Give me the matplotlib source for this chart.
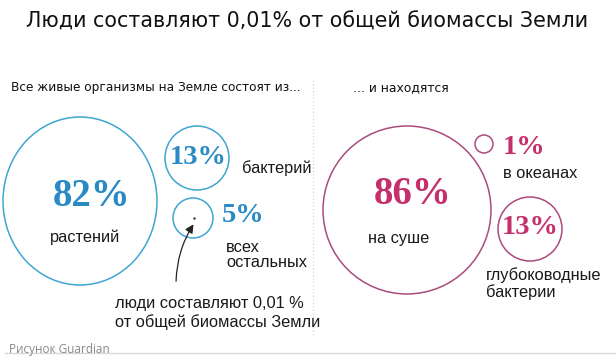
import matplotlib
matplotlib.use("Agg")
import matplotlib.pyplot as plt
from matplotlib.patches import Circle, Ellipse, FancyArrowPatch

# data
title = "Люди составляют 0,01% от общей биомассы Земли"
left_head = "Все живые организмы на Земле состоят из..."
right_head = "... и находятся"
left_vals = ["82%", "13%", "5%"]
left_labels = ["растений", "бактерий", "всех\nостальных"]
right_vals = ["86%", "1%", "13%"]
right_labels = ["на суше", "в океанах", "глубоководные\nбактерии"]
note = "люди составляют 0,01 %\nот общей биомассы Земли"
credit = "Рисунок Guardian"

blue_txt = "#2a8ac4"
blue_line = "#3fa6d2"
pink_txt = "#c42f6c"
pink_line = "#aa4b7e"
num_font = "Liberation Serif"
lab_font = ["Liberation Sans", "DejaVu Sans"]
lab_size = 11.8

fig = plt.figure(figsize=(6.16, 3.64), dpi=100)
ax = fig.add_axes([0, 0, 1, 1])
ax.set_xlim(0, 616)
ax.set_ylim(364, 0)
ax.axis("off")

ax.text(307, 22, title, ha="center", va="center", fontsize=14.9,
        family="DejaVu Sans", color="#111111")
ax.text(11, 88, left_head, ha="left", va="center", fontsize=8.7,
        family="DejaVu Sans", color="#111111")
ax.text(353, 88, right_head, ha="left", va="center", fontsize=8.9,
        family="DejaVu Sans", color="#111111")

# divider
ax.plot([313, 313], [80, 335], color="#dddddd", lw=1, ls=(0, (1, 1.5)))
ax.plot([5, 616], [353, 353], color="#d8d8d8", lw=1)

# left circles
ax.add_patch(Ellipse((80, 201), 154, 168, fill=False, ec=blue_line, lw=1.1))
for (cx, cy, r) in [(197, 158, 32), (193, 218, 20)]:
    ax.add_patch(Circle((cx, cy), r, fill=False, ec=blue_line, lw=1.1))
ax.plot([194], [218], marker=".", ms=1.5, color="#333333")

ax.text(92, 196, left_vals[0], ha="center", va="center", fontsize=28,
        family=num_font, weight="bold", color=blue_txt)
ax.text(85, 237, left_labels[0], ha="center", va="center", fontsize=lab_size,
        family=lab_font, color="#1a1a1a")
ax.text(198, 157, left_vals[1], ha="center", va="center", fontsize=20.5,
        family=num_font, weight="bold", color=blue_txt)
ax.text(242, 168, left_labels[1], ha="left", va="center", fontsize=lab_size,
        family=lab_font, color="#1a1a1a")
ax.text(222, 216, left_vals[2], ha="left", va="center", fontsize=20.5,
        family=num_font, weight="bold", color=blue_txt)
ax.text(226, 255, left_labels[2], ha="left", va="center", fontsize=lab_size,
        family=lab_font, color="#1a1a1a", linespacing=1.0)

arrow = FancyArrowPatch((176, 284), (195, 222), connectionstyle="arc3,rad=-0.15",
                        arrowstyle="-|>,head_length=5,head_width=2.5",
                        color="#222222", lw=0.9)
ax.add_patch(arrow)
ax.text(115, 313, note, ha="left", va="center", fontsize=lab_size,
        family=lab_font, color="#1a1a1a", linespacing=1.3)

ax.text(9, 349, credit, ha="left", va="center", fontsize=8.5,
        family="Open Sans", color="#888888")

# right circles
for (cx, cy, r) in [(407, 210, 84), (484, 144, 9), (530, 229, 32)]:
    ax.add_patch(Circle((cx, cy), r, fill=False, ec=pink_line, lw=1.1))

ax.text(413, 195, right_vals[0], ha="center", va="center", fontsize=28,
        family=num_font, weight="bold", color=pink_txt)
ax.text(399, 239, right_labels[0], ha="center", va="center", fontsize=lab_size,
        family=lab_font, color="#1a1a1a")
ax.text(503, 148, right_vals[1], ha="left", va="center", fontsize=20.5,
        family=num_font, weight="bold", color=pink_txt)
ax.text(503, 173, right_labels[1], ha="left", va="center", fontsize=lab_size,
        family=lab_font, color="#1a1a1a")
ax.text(530, 228, right_vals[2], ha="center", va="center", fontsize=20.5,
        family=num_font, weight="bold", color=pink_txt)
ax.text(486, 284, right_labels[2], ha="left", va="center", fontsize=lab_size,
        family=lab_font, color="#1a1a1a", linespacing=1.1)

fig.savefig("out.png", dpi=100, facecolor="white")
